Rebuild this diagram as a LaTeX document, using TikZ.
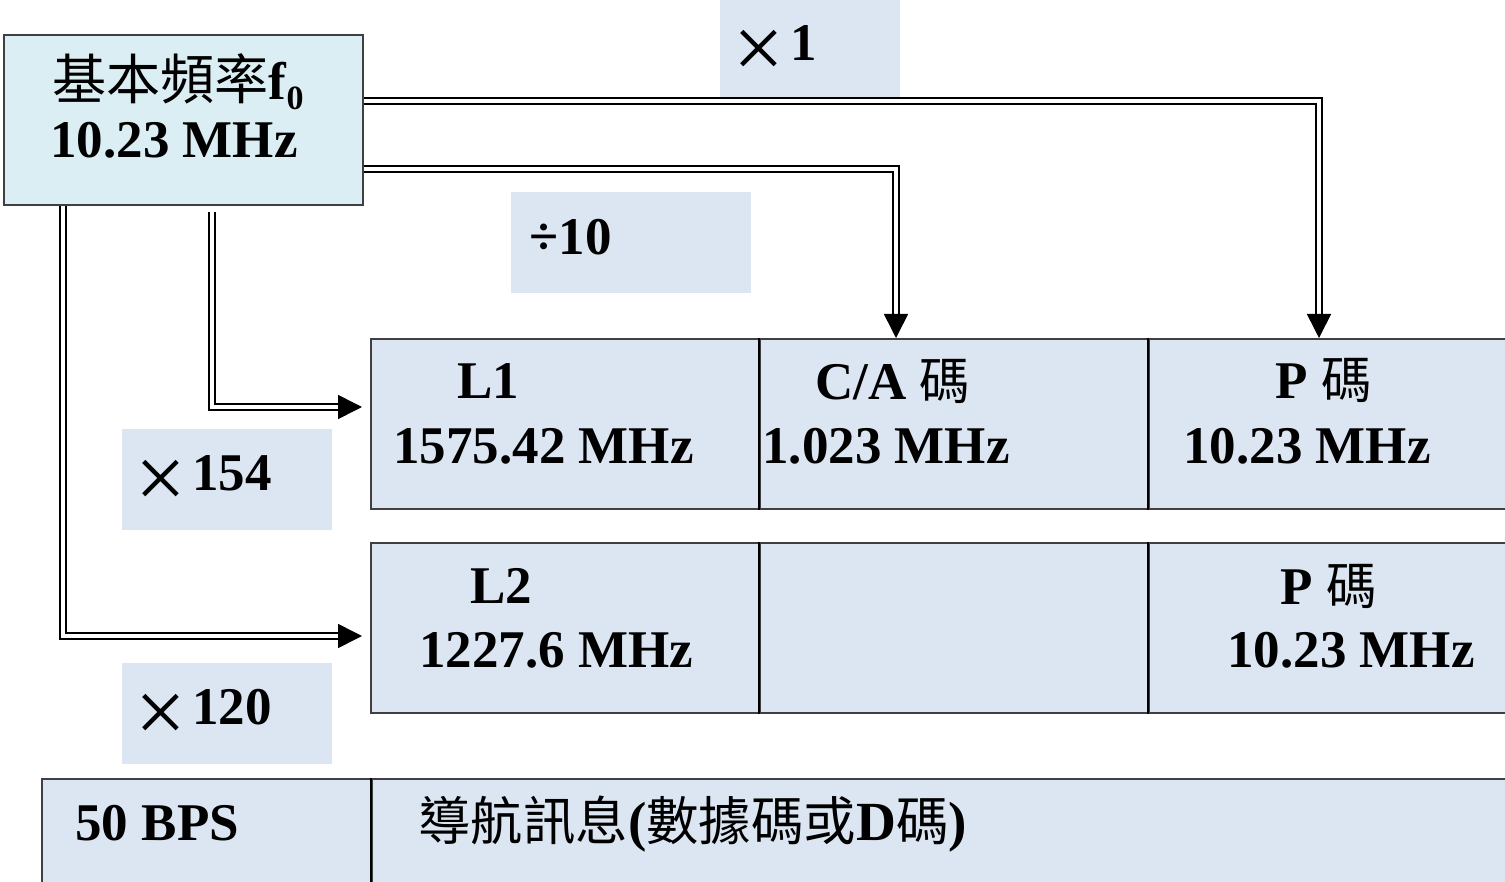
\documentclass[tikz,border=0pt]{standalone}
\usepackage{fontspec}
\setmainfont{Liberation Serif}
\newfontfamily\cjk{Noto Sans CJK TC}[Scale=0.95]
\usetikzlibrary{arrows.meta,calc}
\definecolor{boxA}{HTML}{DBEEF3}
\definecolor{cellB}{HTML}{DCE6F2}
\definecolor{edgeC}{HTML}{404040}
\newcommand{\mytimes}{{\fontsize{45}{45}\selectfont\mdseries\raisebox{-9pt}{×}}\hspace{3pt}}
\newcommand{\ch}[1]{{\cjk\mdseries #1}}
\tikzset{
  topbox/.style={draw=edgeC, line width=1pt, fill=boxA, inner sep=0pt, anchor=north west},
  cell/.style={draw=edgeC, line width=1pt, fill=cellB, inner sep=0pt, anchor=north west, minimum height=85pt},
  lab/.style={fill=cellB, inner sep=0pt, anchor=north west, minimum height=50.5pt},
  txt/.style={anchor=base west, inner sep=0pt, font=\fontsize{26.5}{30}\selectfont\bfseries},
  navtxt/.style={anchor=base west, inner sep=0pt, font=\fontsize{27.6}{32}\selectfont\bfseries},
  dbl/.style={draw=black, line width=1pt, double=white, double distance=1.6pt, shorten >=11pt},
  tip/.style={draw=black, line width=0.8pt, -{Triangle[length=12pt,width=12pt]}},
  sepline/.style={draw=black, line width=1.2pt}
}
\begin{document}
\begin{tikzpicture}[x=0.5pt,y=-0.5pt]
\useasboundingbox (0,0) rectangle (1505,882);
% label boxes
\node[lab, minimum width=90pt, minimum height=52.5pt] (x1box) at (720,-5) {};
\node[lab, minimum width=120pt] (d10box) at (511,192) {};
\node[lab, minimum width=105pt] (x154box) at (122,429) {};
\node[lab, minimum width=105pt] (x120box) at (122,663) {};
% top box
\node[topbox, minimum width=179.5pt, minimum height=85pt] (f0) at (3,34) {};
% table cells
\node[cell, minimum width=194.5pt] (L1) at (370,338) {};
\node[cell, minimum width=194.5pt] (CA) at (759,338) {};
\node[cell, minimum width=186pt] (P1) at (1148,338) {};
\node[cell, minimum width=194.5pt] (L2) at (370,542) {};
\node[cell, minimum width=194.5pt] (E2) at (759,542) {};
\node[cell, minimum width=186pt] (P2) at (1148,542) {};
\node[cell, minimum width=165pt, minimum height=53.5pt] (bps) at (41,778) {};
\node[cell, minimum width=574.5pt, minimum height=53.5pt] (nav) at (371,778) {};
% separators
\draw[sepline] (CA.north west) -- (CA.south west);
\draw[sepline] (P1.north west) -- (P1.south west);
\draw[sepline] (E2.north west) -- (E2.south west);
\draw[sepline] (P2.north west) -- (P2.south west);
\draw[sepline] (nav.north west) -- (nav.south west);
% connector end points
\coordinate (P1tip) at ([xshift=85.5pt]P1.north west);
\coordinate (CAtip) at ([xshift=68.5pt]CA.north west);
\coordinate (L1tip) at ($(L1.north west)+(-8,69)$);
\coordinate (L2tip) at ($(L2.north west)+(-8,94)$);
\coordinate (s3) at ($(f0.south west)+(209,6)$);
\coordinate (s4) at ($(f0.south west)+(60,0)$);
% connectors
\draw[dbl] (f0.east |- 0,101) -| (P1tip);
\draw[tip] ([yshift=12pt]P1tip) -- (P1tip);
\draw[dbl] (f0.east |- 0,169) -| (CAtip);
\draw[tip] ([yshift=12pt]CAtip) -- (CAtip);
\draw[dbl] (s3) |- (L1tip);
\draw[tip] ([xshift=-12pt]L1tip) -- (L1tip);
\draw[dbl] (s4) |- (L2tip);
\draw[tip] ([xshift=-12pt]L2tip) -- (L2tip);
% texts
\node[txt] (f0a) at (52,100) {{\fontsize{28.5}{30}\selectfont\ch{基本頻率}}f\raisebox{-5pt}{\fontsize{17}{17}\selectfont 0}};
\node[txt] (f0b) at (50,158) {10.23 MHz};
\node[txt] (L1a) at (457,398) {L1};
\node[txt] (L1b) at (393,463) {1575.42 MHz};
\node[txt] (CAa) at (815,400) {C/A \ch{碼}};
\node[txt] (CAb) at (762,463) {1.023 MHz};
\node[txt] (P1a) at (1275,399) {P \ch{碼}};
\node[txt] (P1b) at (1183,463) {10.23 MHz};
\node[txt] (L2a) at (470,603) {L2};
\node[txt] (L2b) at (419,667) {1227.6 MHz};
\node[txt] (P2a) at (1280,604) {P \ch{碼}};
\node[txt] (P2b) at (1227,667) {10.23 MHz};
\node[txt] (bpst) at (75,840) {50 BPS};
\node[navtxt] (navt) at (418,840) {\ch{導航訊息}(\ch{數據碼或}D\ch{碼})};
\node[txt] (x1t) at (733,61) {\mytimes 1};
\node[txt] (d10t) at (529,255) {÷10};
\node[txt] (x154t) at (135,490) {\mytimes 154};
\node[txt] (x120t) at (135,724) {\mytimes 120};
\end{tikzpicture}
\end{document}
